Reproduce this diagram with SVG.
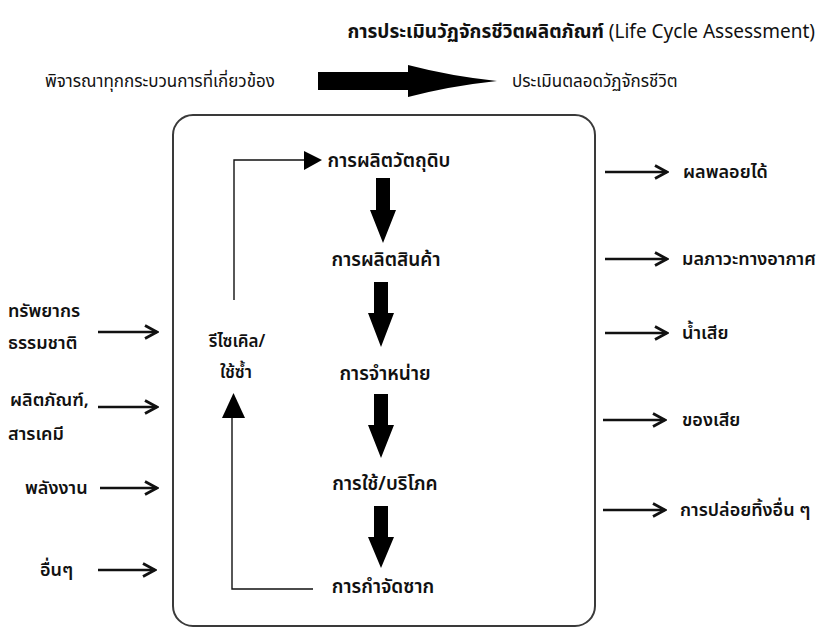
<svg xmlns="http://www.w3.org/2000/svg" width="820" height="628" viewBox="0 0 820 628">
<defs>
<style>
text{font-family:"Noto Sans Thai","Noto Sans","DejaVu Sans",sans-serif;fill:#111;}
.step{font-size:19px;font-weight:600;text-anchor:middle;}
.rec{font-size:17px;font-weight:600;text-anchor:middle;}
.sub{font-size:17px;}
.lab{font-size:18px;font-weight:600;}
.thin{fill:none;stroke:#111;stroke-width:1.4;}
.side{fill:none;stroke:#111;stroke-width:2.5;}
.big{fill:#000;}
</style>
<marker id="open" viewBox="0 0 16 16" refX="14" refY="8" markerWidth="16" markerHeight="16" markerUnits="userSpaceOnUse" orient="auto">
<path d="M2,1.5 L14,8 L2,14.5" fill="none" stroke="#111" stroke-width="2.8" stroke-linejoin="miter"/>
</marker>
</defs>
<rect width="820" height="628" fill="#fff"/>
<g id="title"><text x="815" y="38" text-anchor="end" style="font-size:19px"><tspan font-weight="bold">การประเมินวัฏจักรชีวิตผลิตภัณฑ์</tspan> (Life Cycle Assessment)</text></g>
<g id="subtitle">
<text x="45" y="87" class="sub">พิจารณาทุกกระบวนการที่เกี่ยวข้อง</text>
<path class="big" d="M318,72 L408,72 L408,65 Q450,76 497,81 Q450,86 408,97 L408,90 L318,90 Z"/>
<text x="512" y="87" class="sub">ประเมินตลอดวัฏจักรชีวิต</text>
</g>
<g id="box"><rect x="173" y="115" width="422" height="511" rx="20" fill="none" stroke="#3a3a3a" stroke-width="2"/></g>
<g id="n1"><text x="389" y="167" class="step">การผลิตวัตถุดิบ</text></g>
<g id="n2"><text x="386" y="266" class="step">การผลิตสินค้า</text></g>
<g id="n3"><text x="385" y="380" class="step">การจำหน่าย</text></g>
<g id="n4"><text x="385" y="490" class="step">การใช้/บริโภค</text></g>
<g id="n5"><text x="383" y="593" class="step">การกำจัดซาก</text></g>
<g id="recycle"><text x="237" y="347" class="rec">รีไซเคิล/</text><text x="236" y="378" class="rec">ใช้ซ้ำ</text></g>
<g id="in1"><text x="8" y="317" class="lab">ทรัพยากร</text><text x="8" y="349" class="lab">ธรรมชาติ</text></g>
<g id="in2"><text x="10" y="406" class="lab">ผลิตภัณฑ์,</text><text x="8" y="440" class="lab">สารเคมี</text></g>
<g id="in3"><text x="25" y="494" class="lab">พลังงาน</text></g>
<g id="in4"><text x="40" y="576" class="lab">อื่นๆ</text></g>
<g id="out1"><text x="683" y="178" class="lab">ผลพลอยได้</text></g>
<g id="out2"><text x="682" y="265" class="lab">มลภาวะทางอากาศ</text></g>
<g id="out3"><text x="682" y="339" class="lab">น้ำเสีย</text></g>
<g id="out4"><text x="682" y="426" class="lab">ของเสีย</text></g>
<g id="out5"><text x="680" y="516" class="lab">การปล่อยทิ้งอื่น ๆ</text></g>
<g id="connectors">
<path class="big" d="M376,178 H390 V210 H396 L383,243 L370,210 H376 Z"/>
<path class="big" d="M374,282 H388 V313 H394 L381,347 L368,313 H374 Z"/>
<path class="big" d="M374,394 H388 V425 H394 L381,458 L368,425 H374 Z"/>
<path class="big" d="M374,506 H388 V537 H394 L381,568 L368,537 H374 Z"/>
<polyline class="thin" points="234,300 234,160 305,160"/>
<path class="big" d="M304,151 L322,160 L304,170 Z"/>
<polyline class="thin" points="313,589 232,589 232,415"/>
<path class="big" d="M222,418 L233.5,393 L245,418 Z"/>
<line class="side" x1="98" y1="332" x2="157" y2="332" marker-end="url(#open)"/>
<line class="side" x1="98" y1="407" x2="157" y2="407" marker-end="url(#open)"/>
<line class="side" x1="100" y1="488" x2="157" y2="488" marker-end="url(#open)"/>
<line class="side" x1="98" y1="570" x2="155" y2="570" marker-end="url(#open)"/>
<line class="side" x1="605" y1="172" x2="667" y2="172" marker-end="url(#open)"/>
<line class="side" x1="605" y1="259" x2="667" y2="259" marker-end="url(#open)"/>
<line class="side" x1="605" y1="333" x2="667" y2="333" marker-end="url(#open)"/>
<line class="side" x1="603" y1="420" x2="665" y2="420" marker-end="url(#open)"/>
<line class="side" x1="603" y1="510" x2="665" y2="510" marker-end="url(#open)"/>
</g>
</svg>
